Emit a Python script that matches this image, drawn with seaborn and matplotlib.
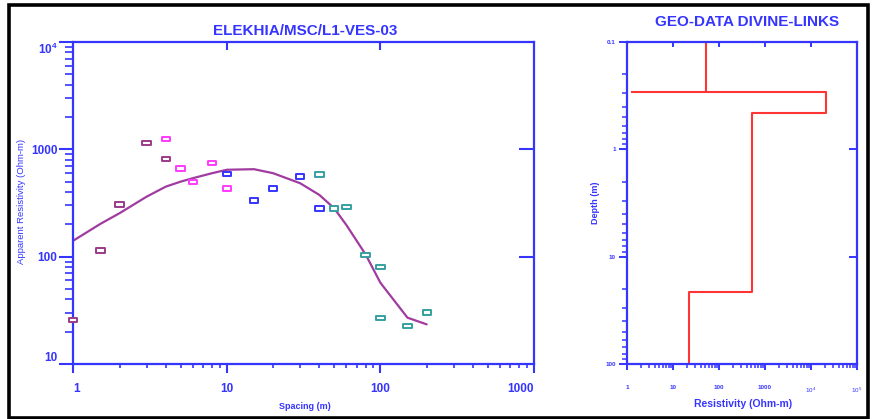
import numpy as np
import pandas as pd
import seaborn as sns
import matplotlib.pyplot as plt
from matplotlib.path import Path
from matplotlib.patches import Rectangle
from matplotlib.ticker import FixedLocator, NullLocator, NullFormatter

# ---------------- data ----------------
spacing_purple = [1, 1.5, 2, 3, 4]
rho_purple = [25.7, 114, 305, 1150, 815]
spacing_pink = [4, 5, 6, 8, 10]
rho_pink = [1250, 661, 497, 747, 431]
spacing_blue = [10, 15, 20, 30, 40]
rho_blue = [590, 332, 434, 561, 282]
spacing_teal = [40, 50, 60, 80, 100, 100, 150, 200]
rho_teal = [586, 282, 290, 104, 80, 26.8, 22.6, 30]

model_spacing = [1, 1.5, 2, 3, 4, 5, 6, 8, 10, 15, 20, 30, 40, 50, 60, 80, 100, 150, 200]
model_rho = [141, 202, 254, 362, 449, 500, 538, 599, 645, 653, 599, 483, 376, 282, 197, 105, 57, 27, 23.4]

layer_rho = [51, 21000, 513, 22.3]
layer_bottom = [0.29, 0.46, 21.5]

left_title = "ELEKHIA/MSC/L1-VES-03"
right_title = "GEO-DATA DIVINE-LINKS"
left_yticks = [10, 100, 1000, 10000]
left_yticklabels = ["10", "100", "1000", r"$\mathbf{10^4}$"]
left_xticks = [1, 10, 100, 1000]
left_xticklabels = ["1", "10", "100", "1000"]
right_yticks = [0.1, 1, 10, 100]
right_yticklabels = ["0.1", "1", "10", "100"]
right_xticks = [1, 10, 100, 1000, 1e4, 1e5]
right_xticklabels = ["1", "10", "100", "1000", r"$10^4$", r"$10^5$"]

# ---------------- style ----------------
sns.set_theme(style="white")
plt.rcParams['font.family'] = ['Liberation Sans', 'DejaVu Sans']
plt.rcParams['mathtext.fontset'] = 'custom'
plt.rcParams['mathtext.rm'] = 'Liberation Sans'
plt.rcParams['mathtext.bf'] = 'Liberation Sans:bold'

BLUE = '#3535ff'
LINE = '#a03ca0'
palette = {'a': '#9b3a8a', 'b': '#ff3cff', 'c': '#3434ff', 'd': '#35a0a0'}

fig = plt.figure(figsize=(8.73, 4.19), dpi=100)
ax = fig.add_axes([0.0840, 0.1313, 0.5277, 0.7685])
ax2 = fig.add_axes([0.7182, 0.1313, 0.2635, 0.7685])

# ---------------- left: sounding curve ----------------
obs = pd.DataFrame({
    'spacing': spacing_purple + spacing_pink + spacing_blue + spacing_teal,
    'rho': rho_purple + rho_pink + rho_blue + rho_teal,
    'seg': (['a'] * len(spacing_purple) + ['b'] * len(spacing_pink)
            + ['c'] * len(spacing_blue) + ['d'] * len(spacing_teal)),
})
model = pd.DataFrame({'spacing': model_spacing, 'rho': model_rho})

sns.lineplot(data=model, x='spacing', y='rho', ax=ax, color=LINE, lw=1.6,
             sort=False, estimator=None, zorder=2)

rect = Path([(-1, -0.55), (1, -0.55), (1, 0.55), (-1, 0.55), (-1, -0.55)],
            [Path.MOVETO, Path.LINETO, Path.LINETO, Path.LINETO, Path.CLOSEPOLY])
sns.scatterplot(data=obs, x='spacing', y='rho', hue='seg', palette=palette,
                marker=rect, s=36, ax=ax, legend=False, zorder=3, clip_on=False)
coll = ax.collections[-1]
fcs = coll.get_facecolors()
coll.set_edgecolors(fcs)
coll.set_facecolors('white')
coll.set_linewidths(1.4)

ax.set_xscale('log')
ax.set_yscale('log')
ax.set_xlim(1, 1000)
ax.set_ylim(10, 10000)
ax.set_xlabel('')
ax.set_ylabel('')
for sp in ax.spines.values():
    sp.set_color(BLUE)
    sp.set_linewidth(1.6)

ax.yaxis.set_major_locator(FixedLocator(left_yticks))
ax.set_yticklabels(left_yticklabels)
ax.xaxis.set_major_locator(FixedLocator(left_xticks))
ax.set_xticklabels(left_xticklabels)
ax.yaxis.set_minor_locator(FixedLocator([m * 10 ** e for e in range(1, 4) for m in range(2, 10)]))
ax.xaxis.set_minor_locator(FixedLocator([m * 10 ** e for e in range(0, 3) for m in range(2, 10)]))
ax.yaxis.set_minor_formatter(NullFormatter())
ax.xaxis.set_minor_formatter(NullFormatter())
ax.tick_params(axis='y', which='major', direction='out', length=10, width=1.5,
               color=BLUE, labelcolor=BLUE, labelsize=8.5, pad=1.5, left=True)
ax.tick_params(axis='y', which='minor', direction='out', length=5.5, width=1.2,
               color=BLUE, left=True)
ax.tick_params(axis='x', which='major', direction='out', length=6.5, width=1.5,
               color=BLUE, labelcolor=BLUE, labelsize=8.5, pad=7, bottom=True)
ax.tick_params(axis='x', which='minor', direction='out', length=3, width=1.2,
               color=BLUE, bottom=True)
for lab in ax.get_yticklabels() + ax.get_xticklabels():
    lab.set_fontweight('bold')
ylabs = ax.get_yticklabels()
ylabs[0].set_va('bottom')
ylabs[-1].set_va('top')
xlabs = ax.get_xticklabels()
xlabs[0].set_ha('left')
xlabs[-1].set_ha('right')

sec_top = ax.secondary_xaxis('top')
sec_top.xaxis.set_major_locator(FixedLocator([10, 100]))
sec_top.xaxis.set_minor_locator(NullLocator())
sec_top.tick_params(direction='in', length=6, width=1.5, color=BLUE, labeltop=False)
sec_top.spines['top'].set_visible(False)
sec_right = ax.secondary_yaxis('right')
sec_right.yaxis.set_major_locator(FixedLocator([100, 1000]))
sec_right.yaxis.set_minor_locator(NullLocator())
sec_right.tick_params(direction='in', length=11, width=1.5, color=BLUE, labelright=False)
sec_right.spines['right'].set_visible(False)

fig.text(305 / 873, 1 - 31 / 419, left_title, ha='center', va='center',
         color=BLUE, fontsize=11, fontweight='bold')
fig.text(305 / 873, 1 - 406 / 419, 'Spacing (m)', ha='center', va='center',
         color=BLUE, fontsize=6.5, fontweight='bold')
fig.text(22 / 873, 1 - 201 / 419, 'Apparent Resistivity (Ohm-m)', ha='center',
         va='center', rotation=90, color=BLUE, fontsize=6.8)

# ---------------- right: layered model ----------------
top_depth, bottom_depth = 0.1, 100
step_x, step_y = [], []
depths = [top_depth] + layer_bottom + [bottom_depth]
for i, r in enumerate(layer_rho):
    step_x += [r, r]
    step_y += [depths[i], depths[i + 1]]
steps = pd.DataFrame({'rho': step_x, 'depth': step_y})
sns.lineplot(data=steps, x='rho', y='depth', ax=ax2, color='#ff3535', lw=1.5,
             sort=False, estimator=None)
ax2.hlines(layer_bottom[0], 1.22, layer_rho[0], color='#ff3535', lw=1.5)

ax2.set_xscale('log')
ax2.set_yscale('log')
ax2.set_xlim(1, 1e5)
ax2.set_ylim(bottom_depth, top_depth)
ax2.set_xlabel('')
ax2.set_ylabel('')
for sp in ax2.spines.values():
    sp.set_color(BLUE)
    sp.set_linewidth(1.6)
ax2.yaxis.set_major_locator(FixedLocator(right_yticks))
ax2.set_yticklabels(right_yticklabels)
ax2.xaxis.set_major_locator(FixedLocator(right_xticks))
ax2.set_xticklabels(right_xticklabels)
ax2.yaxis.set_minor_locator(FixedLocator([m * 10 ** e for e in range(-1, 2) for m in range(2, 10)]))
ax2.xaxis.set_minor_locator(FixedLocator([m * 10 ** e for e in range(0, 5) for m in range(2, 10)]))
ax2.yaxis.set_minor_formatter(NullFormatter())
ax2.xaxis.set_minor_formatter(NullFormatter())
ax2.tick_params(axis='y', which='major', direction='out', length=6, width=1.4,
                color=BLUE, labelcolor=BLUE, labelsize=4.5, pad=2, left=True)
ax2.tick_params(axis='y', which='minor', direction='out', length=3.5, width=1.1,
                color=BLUE, left=True)
ax2.tick_params(axis='x', which='major', direction='out', length=4.3, width=1.4,
                color=BLUE, labelcolor=BLUE, labelsize=4.5, pad=11, bottom=True)
ax2.tick_params(axis='x', which='minor', direction='out', length=3, width=1.1,
                color=BLUE, bottom=True)
for lab in ax2.get_yticklabels() + ax2.get_xticklabels():
    lab.set_fontweight('bold')

sec_top2 = ax2.secondary_xaxis('top')
sec_top2.xaxis.set_major_locator(FixedLocator([10, 100, 1000, 1e4]))
sec_top2.xaxis.set_minor_locator(NullLocator())
sec_top2.tick_params(direction='in', length=3.6, width=1.4, color=BLUE, labeltop=False)
sec_top2.spines['top'].set_visible(False)
sec_right2 = ax2.secondary_yaxis('right')
sec_right2.yaxis.set_major_locator(FixedLocator([1, 10]))
sec_right2.yaxis.set_minor_locator(NullLocator())
sec_right2.tick_params(direction='in', length=6, width=1.4, color=BLUE, labelright=False)
sec_right2.spines['right'].set_visible(False)

fig.text(747 / 873, 1 - 22 / 419, right_title, ha='center', va='center',
         color=BLUE, fontsize=11, fontweight='bold')
fig.text(743 / 873, 1 - 404 / 419, 'Resistivity (Ohm-m)', ha='center', va='center',
         color=BLUE, fontsize=7.5, fontweight='bold')
fig.text(595 / 873, 1 - 203 / 419, 'Depth (m)', ha='center', va='center',
         rotation=90, color=BLUE, fontsize=6.5, fontweight='bold')

# outer frame
fig.add_artist(Rectangle((9 / 873, 1.5 / 419), 859 / 873, 412 / 419,
                         transform=fig.transFigure, fill=False, ec='black', lw=2.6))

fig.savefig('out.png', dpi=100)
